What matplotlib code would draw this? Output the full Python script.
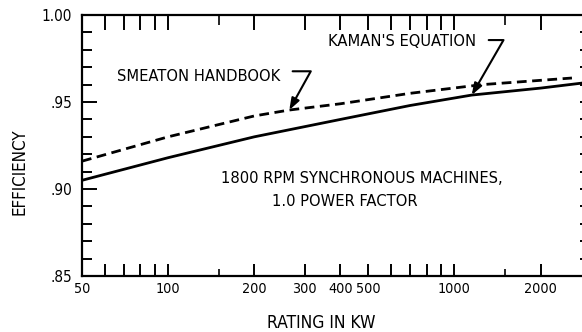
import matplotlib
matplotlib.use('Agg')
import matplotlib.pyplot as plt

plt.rcParams['font.family'] = ['Liberation Sans Narrow', 'DejaVu Sans']
plt.rcParams['font.stretch'] = 'condensed'

# Kaman's equation (solid)
kaman_kw = [50, 100, 200, 400, 700, 1150, 2000, 2830]
kaman_eff = [0.905, 0.918, 0.930, 0.940, 0.948, 0.954, 0.958, 0.961]

# Smeaton handbook (dashed)
smeaton_kw = [50, 100, 200, 265, 400, 700, 1250, 2575]
smeaton_eff = [0.916, 0.930, 0.942, 0.9454, 0.949, 0.955, 0.960, 0.9638]

x_major = [50, 60, 70, 80, 90, 100, 200, 300, 400, 500, 600, 700, 800, 900, 1000, 2000]
x_labels = ['50', '', '', '', '', '100', '200', '300', '400', '500', '', '', '', '', '1000', '2000']
x_short = [150, 1500]
y_major = [0.85, 0.90, 0.95, 1.00]
y_labels = ['.85', '.90', '.95', '1.00']
y_minor = [0.86, 0.87, 0.88, 0.89, 0.91, 0.92, 0.93, 0.94, 0.96, 0.97, 0.98, 0.99]

fig = plt.figure(figsize=(5.82, 3.32), dpi=100)
ax = fig.add_axes([0.1409, 0.1687, 0.862, 0.786])

ax.plot(kaman_kw, kaman_eff, color='black', lw=2.0, solid_capstyle='butt')
ax.plot(smeaton_kw, smeaton_eff, color='black', lw=2.0, dashes=(3.5, 2.0))

ax.set_xscale('log')
ax.set_xlim(50, 2830)
ax.set_ylim(0.85, 1.00)

ax.set_xticks(x_major, x_labels)
ax.set_xticks(x_short, [''] * len(x_short), minor=True)
ax.set_yticks(y_major, y_labels)
ax.set_yticks(y_minor, minor=True)

ax.tick_params(axis='x', which='major', direction='in', length=9, width=1.4,
               labelsize=10.3, pad=4, top=False)
ax.tick_params(axis='x', which='minor', direction='in', length=5, width=1.2, top=False)
ax.tick_params(axis='y', which='major', direction='in', length=11, width=1.4,
               labelsize=11, pad=7, right=False)
ax.tick_params(axis='y', which='minor', direction='in', length=7, width=1.4, right=False)

for s in ['left', 'bottom', 'top']:
    ax.spines[s].set_linewidth(1.6)
ax.spines['right'].set_visible(False)

# top ticks
axt = ax.twiny()
axt.set_xscale('log')
axt.set_xlim(ax.get_xlim())
axt.set_xticks(x_major[1:], [''] * (len(x_major) - 1))
axt.set_xticks(x_short, [''] * len(x_short), minor=True)
axt.tick_params(axis='x', which='major', direction='in', length=11, width=1.4)
axt.tick_params(axis='x', which='minor', direction='in', length=7, width=1.2)
for s in axt.spines.values():
    s.set_visible(False)

# right ticks
axr = ax.twinx()
axr.set_ylim(ax.get_ylim())
axr.set_yticks(y_major + y_minor, [''] * (len(y_major) + len(y_minor)))
axr.tick_params(axis='y', direction='in', length=3, width=1.4)
for s in axr.spines.values():
    s.set_visible(False)

fs = 11.8
ax.text(0.070, 0.766, 'SMEATON HANDBOOK', transform=ax.transAxes, fontsize=fs, va='center')
ax.text(0.490, 0.897, "KAMAN'S EQUATION", transform=ax.transAxes, fontsize=fs, va='center')
ax.text(0.277, 0.375, '1800 RPM SYNCHRONOUS MACHINES,', transform=ax.transAxes, fontsize=fs, va='center')
ax.text(0.379, 0.284, '1.0 POWER FACTOR', transform=ax.transAxes, fontsize=fs, va='center')

arrow = dict(arrowstyle='-|>,head_length=0.7,head_width=0.25', color='black', lw=1.5,
             shrinkA=0, shrinkB=0)
ax.annotate('', xy=(smeaton_kw[3], smeaton_eff[3]), xytext=(2.4, 27.9), textcoords='offset points',
            arrowprops=dict(arrow, connectionstyle='angle,angleA=0,angleB=61,rad=0'))
ax.annotate('', xy=(kaman_kw[5], kaman_eff[5]), xytext=(12.2, 39.6), textcoords='offset points',
            arrowprops=dict(arrow, connectionstyle='angle,angleA=0,angleB=60,rad=0'))

fig.text(0.033, 0.482, 'EFFICIENCY', rotation=90, fontsize=12.2, ha='center', va='center')
fig.text(0.552, 0.027, 'RATING IN KW', fontsize=12.5, ha='center', va='center')

fig.savefig('out.png', dpi=100)
